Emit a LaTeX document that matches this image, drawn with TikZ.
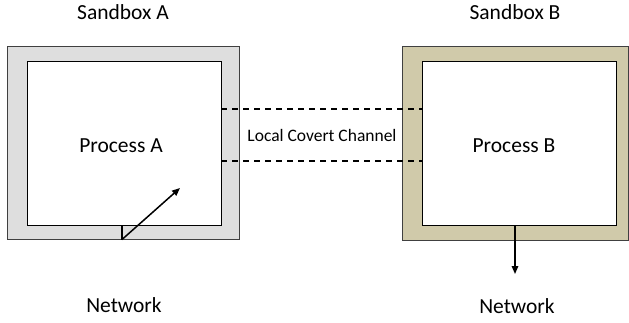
\documentclass[tikz,border=0pt]{standalone}
\usepackage{fontspec}
\setmainfont{Carlito}
\usetikzlibrary{arrows.meta}
\definecolor{sandA}{RGB}{222,222,222}
\definecolor{sandB}{RGB}{208,202,170}
\definecolor{edgegray}{RGB}{64,64,64}
\tikzset{
  outerbox/.style={draw=edgegray,line width=1pt,inner sep=0pt,minimum width=#1},
  innerbox/.style={draw=black,line width=0.9pt,fill=white,inner sep=0pt,minimum width=194pt,minimum height=164pt},
  bigtext/.style={font=\fontsize{21.5pt}{24pt}\selectfont,anchor=base,inner sep=0pt},
  smalltext/.style={font=\fontsize{17.5pt}{20pt}\selectfont,anchor=base,inner sep=0pt},
  channel/.style={line width=2pt,dash pattern=on 6pt off 5pt},
  netarrow/.style={line width=1.5pt,-{Triangle[length=8pt,width=6.5pt]}}
}
\begin{document}
\begin{tikzpicture}[x=1pt,y=-1pt]
\useasboundingbox (0,0) rectangle (629,322);
% sandboxes
\node[outerbox=232pt,minimum height=193pt,fill=sandA] (outerA) at (123,142.5) {};
\node[innerbox] (innerA) at (124,143) {};
\node[outerbox=226pt,minimum height=194pt,fill=sandB] (outerB) at (515,143) {};
\node[innerbox] (innerB) at (519,143) {};
% labels
\node[bigtext] (labSA) at (123,19) {Sandbox A};
\node[bigtext] (labSB) at (515,19) {Sandbox B};
\node[bigtext] (labPA) at (121,152) {Process A};
\node[bigtext] (labPB) at (514,152) {Process B};
\node[bigtext] (labNA) at (124,312) {Network};
\node[bigtext] (labNB) at (517,313) {Network};
\node[smalltext] (labCh) at (322,141) {Local Covert Channel};
% covert channel
\coordinate (chTop) at (0,109);
\coordinate (chBot) at (0,161);
\draw[channel] (innerA.east |- chTop) -- (innerB.west |- chTop);
\draw[channel] (innerA.east |- chBot) -- (innerB.west |- chBot);
% network A
\coordinate (tickA) at (122,0);
\coordinate (arrA) at (180,188);
\draw[line width=1.2pt] (innerA.south -| tickA) -- (outerA.south -| tickA);
\draw[netarrow] (outerA.south -| tickA) -- (arrA);
% network B
\coordinate (arrBx) at (515,0);
\coordinate (arrB) at (515,274);
\draw[netarrow] (innerB.south -| arrBx) -- (arrB);
\end{tikzpicture}
\end{document}
